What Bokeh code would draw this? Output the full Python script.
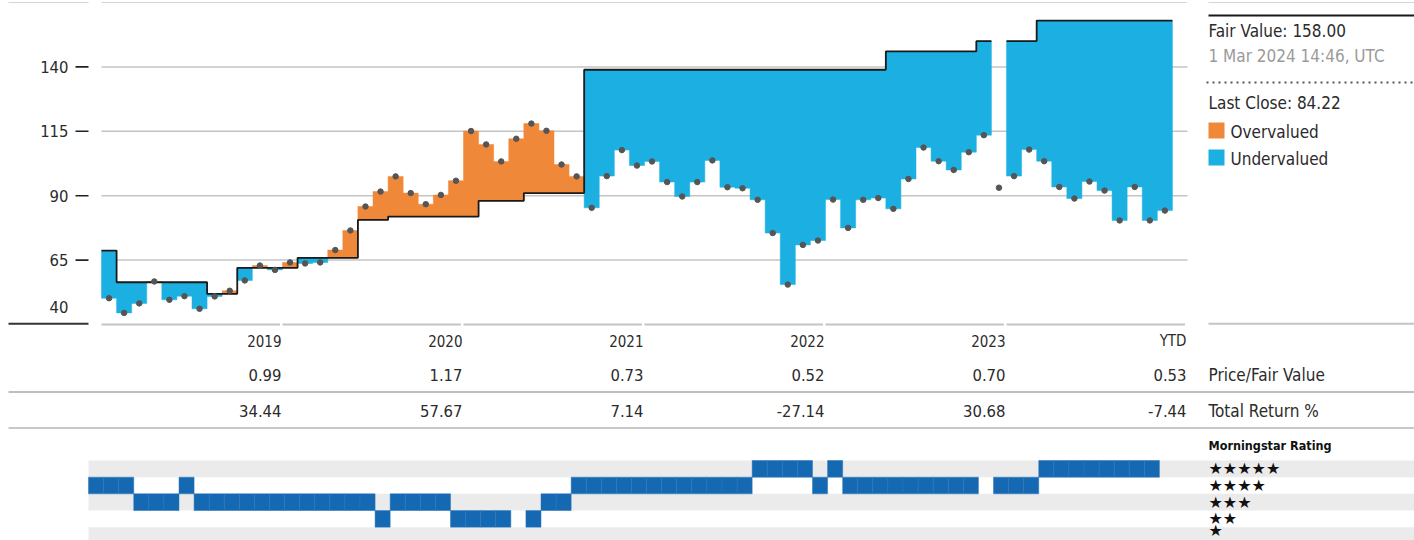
import numpy as np
from bokeh.plotting import figure
from bokeh.layouts import column
from bokeh.models import Range1d
from bokeh.core.properties import value
from bokeh.embed import file_html
from bokeh.resources import INLINE

# ---------------- data ----------------
price = [50.2, 44.5, 48.2, 56.7, 49.6, 51.0, 46.1, 50.9, 53.1, 57.1, 62.9, 61.2,
         64.1, 63.7, 64.1, 68.9, 76.5, 85.8, 91.6, 97.5, 91.0, 86.7, 90.3, 95.8,
         115.1, 109.9, 103.3, 112.1, 118.0, 115.2, 102.1, 97.5, 85.3, 97.6, 107.7, 101.7,
         103.3, 95.3, 89.7, 95.3, 103.7, 93.3, 92.9, 88.4, 75.5, 55.5, 70.9, 72.6,
         88.5, 77.5, 88.4, 89.1, 84.9, 96.5, 108.7, 103.4, 100.0, 106.9, 113.5, 93.1,
         97.6, 107.9, 103.4, 93.4, 88.9, 95.5, 92.0, 80.4, 93.4, 80.4, 84.22]

fair_value = [68.7, 56.4, 56.4, 56.4, 56.4, 56.4, 56.4, 51.9, 51.9, 62.0, 62.0, 62.0,
              62.0, 65.9, 65.9, 65.9, 65.9, 80.6, 80.6, 81.9, 81.9, 81.9, 81.9, 81.9,
              81.9, 88.0, 88.0, 88.0, 91.0, 91.0, 91.0, 91.0, 138.9, 138.9, 138.9, 138.9,
              138.9, 138.9, 138.9, 138.9, 138.9, 138.9, 138.9, 138.9, 138.9, 138.9, 138.9, 138.9,
              138.9, 138.9, 138.9, 138.9, 146.0, 146.0, 146.0, 146.0, 146.0, 146.0, 150.0, None,
              150.0, 150.0, 158.0, 158.0, 158.0, 158.0, 158.0, 158.0, 158.0, 158.0, 158.0]

star_rating = [4, 4, 4, 3, 3, 3, 4, 3, 3, 3, 3, 3, 3, 3, 3, 3, 3, 3, 3, 2,
               3, 3, 3, 3, 2, 2, 2, 2, None, 2, 3, 3,
               4, 4, 4, 4, 4, 4, 4, 4, 4, 4, 4, 4,
               5, 5, 5, 5, 4, 5, 4, 4, 4, 4, 4, 4, 4, 4, 4, None, 4, 4, 4,
               5, 5, 5, 5, 5, 5, 5, 5]

years = ["2019", "2020", "2021", "2022", "2023", "YTD"]
price_fair_value = ["0.99", "1.17", "0.73", "0.52", "0.70", "0.53"]
total_return = ["34.44", "57.67", "7.14", "-27.14", "30.68", "-7.44"]

y_ticks = [65, 90, 115, 140]
star_levels = [5, 4, 3, 2, 1]

fair_value_text = "Fair Value: 158.00"
date_text = "1 Mar 2024 14:46, UTC"
last_close_text = "Last Close: 84.22"

# ---------------- styling / layout ----------------
FONT = "DejaVu Sans Condensed"
ORANGE = "#F0883A"
BLUE = "#1CB0E2"
RATING_BLUE = "#1569B3"
BAND_GRAY = "#EBEBEB"
GRID = "#C4C4C4"
TXT = "#2b2b2b"

FIG_W = 1414
H1, H2, H3 = 330, 102, 108

W_MONTH = 1086 / 72.0      # pixel width of one month column
X0 = 101                    # pixel x of the first month


def mx(px):
    return (px - X0) / W_MONTH


S = 322 / 125.0             # px per price unit


def vy(py):
    return 40 + (324 - py) / S


x_range = Range1d(mx(0), mx(FIG_W))
X_END = 72
XL0, XL1 = mx(8), mx(88)          # left axis block
XT0 = mx(75)                       # tick start
XLAB = mx(68)                      # tick label right edge
XR0, XR1 = mx(1208), mx(FIG_W)     # right panel


def make_fig(h, yr):
    f = figure(width=FIG_W, height=h, x_range=x_range, y_range=yr,
               x_axis_type=None, y_axis_type=None, output_backend="svg",
               toolbar_location=None, tools="", min_border=0)
    f.outline_line_color = None
    f.background_fill_color = "white"
    f.border_fill_color = "white"
    return f


# ================= main chart =================
p1 = make_fig(H1, Range1d(vy(H1), vy(0)))

# grid lines
p1.segment(x0=[0] * len(y_ticks), x1=[X_END] * len(y_ticks), y0=y_ticks, y1=y_ticks,
           line_color=GRID, line_width=1.5)
p1.segment(x0=[0, XR0, XL0], x1=[X_END - 0.05, XR1, XL1], y0=[165] * 3, y1=[165] * 3,
           line_color="#D4D4D4", line_width=1.2)
# bottom line split per year
yb = [40] * len(years)
p1.segment(x0=[12 * k for k in range(len(years))],
           x1=[12 * (k + 1) - 0.17 for k in range(len(years))],
           y0=yb, y1=yb, line_color=GRID, line_width=2)
p1.segment(x0=[XR0], x1=[XR1], y0=[40.3], y1=[40.3], line_color=GRID, line_width=2)

# left axis block
p1.segment(x0=[XL0], x1=[XL1], y0=[40.3], y1=[40.3], line_color="#333333", line_width=2)
p1.segment(x0=[XT0] * len(y_ticks), x1=[XL1] * len(y_ticks), y0=y_ticks, y1=y_ticks,
           line_color="#222222", line_width=1.6)
p1.text(x=[XLAB] * len(y_ticks), y=y_ticks, text=[str(t) for t in y_ticks],
        text_align="right", text_baseline="middle", text_font=value(FONT),
        text_font_size="16.5px", text_color=TXT)
p1.text(x=[XLAB], y=[40], text=["40"], text_align="right", text_baseline="middle",
        y_offset=-18, text_font=value(FONT), text_font_size="16.5px", text_color=TXT)

# valuation areas: contiguous runs of over/under-valued months as one polygon
pr = np.array(price, dtype=float)
fv = np.array([np.nan if v is None else v for v in fair_value], dtype=float)
idx = np.arange(len(pr))
state = np.where(np.isnan(fv), 0, np.where(pr > fv, 1, -1))
poly_xs, poly_ys, poly_col = [], [], []
i = 0
while i < len(pr):
    if state[i] == 0:
        i += 1
        continue
    j = i
    while j + 1 < len(pr) and state[j + 1] == state[i]:
        j += 1
    run = range(i, j + 1)
    top = [max(pr[k], fv[k]) for k in run]
    bot = [min(pr[k], fv[k]) for k in run]
    xs_, ys_ = [], []
    for k, t in zip(run, top):
        xs_ += [k, k + 1]
        ys_ += [t, t]
    for k, b in zip(reversed(run), reversed(bot)):
        xs_ += [k + 1, k]
        ys_ += [b, b]
    poly_xs.append(xs_)
    poly_ys.append(ys_)
    poly_col.append(ORANGE if state[i] == 1 else BLUE)
    i = j + 1
p1.patches(xs=poly_xs, ys=poly_ys, fill_color=poly_col, line_color=poly_col, line_width=0.5)

# fair value step line
xs, ys, cx, cy = [], [], [], []
for i in range(len(fv)):
    if np.isnan(fv[i]):
        if cx:
            xs.append(cx)
            ys.append(cy)
            cx, cy = [], []
        continue
    cx += [i, i + 1]
    cy += [fv[i], fv[i]]
if cx:
    xs.append(cx)
    ys.append(cy)
p1.multi_line(xs=xs, ys=ys, line_color="#1a1a1a", line_width=1.8)

# price dots
p1.scatter(idx + 0.5, pr, size=5.5, color="#555555")

# right panel
p1.segment(x0=[XR0], x1=[XR1], y0=[vy(15)], y1=[vy(15)], line_color="#1a1a1a", line_width=2)
p1.segment(x0=[mx(1206)], x1=[XR1], y0=[vy(82)], y1=[vy(82)], line_color="#555555",
           line_width=2.2, line_dash="2 4")
p1.text(x=[XR0], y=[vy(30)], text=[fair_value_text], text_baseline="middle",
        text_font=value(FONT), text_font_size="17px", text_color=TXT)
p1.text(x=[XR0], y=[vy(55.5)], text=[date_text], text_baseline="middle",
        text_font=value(FONT), text_font_size="17px", text_color="#9a9a9a")
p1.text(x=[XR0], y=[vy(102)], text=[last_close_text], text_baseline="middle",
        text_font=value(FONT), text_font_size="17px", text_color=TXT)
p1.scatter(x=[mx(1216)] * 2, y=[vy(130), vy(157)], marker="square", size=16,
           fill_color=[ORANGE, BLUE], line_color=None)
p1.text(x=[mx(1230)] * 2, y=[vy(131), vy(158)], text=["Overvalued", "Undervalued"],
        text_baseline="middle", text_font=value(FONT), text_font_size="17px", text_color=TXT)

# ================= table =================
p2 = make_fig(H2, Range1d(330 + H2, 330))
col_end = [12 * (k + 1) for k in range(len(years))]
p2.text(x=col_end, y=[340] * len(years), text=years, text_align="right",
        text_baseline="middle", x_offset=-1, text_font=value(FONT),
        text_font_size="15px", text_color=TXT)
p2.text(x=col_end, y=[374.5] * len(years), text=price_fair_value, text_align="right",
        text_baseline="middle", x_offset=-1, text_font=value(FONT),
        text_font_size="16.5px", text_color=TXT)
p2.text(x=col_end, y=[410.5] * len(years), text=total_return, text_align="right",
        text_baseline="middle", x_offset=-1, text_font=value(FONT),
        text_font_size="16.5px", text_color=TXT)
p2.text(x=[XR0, XR0], y=[374.5, 410.5], text=["Price/Fair Value", "Total Return %"],
        text_baseline="middle", text_font=value(FONT), text_font_size="17px", text_color=TXT)
p2.segment(x0=[XL0, XL0], x1=[XR1, XR1], y0=[391.5, 427.5], y1=[391.5, 427.5],
           line_color=["#A8A8A8", "#C8C8C8"], line_width=[1.5, 2])

# ================= rating =================
ROW = 16.67
y_top_val = 5.5 + (460 - 432) / ROW
y_bot_val = y_top_val - H3 / ROW
p3 = make_fig(H3, Range1d(y_bot_val, y_top_val))
OFF = mx(88)
gray_levels = [5, 3, 1]
p3.quad(left=[OFF] * 3, right=[XR1] * 3, bottom=[s - 0.5 for s in gray_levels],
        top=[s + 0.5 for s in gray_levels], fill_color=BAND_GRAY, line_color=None)
rj = [j for j, s in enumerate(star_rating) if s is not None]
rs = [star_rating[j] for j in rj]
p3.quad(left=[j + OFF for j in rj], right=[j + 1 + OFF for j in rj],
        bottom=[s - 0.5 for s in rs], top=[s + 0.5 for s in rs],
        fill_color=RATING_BLUE, line_color="#2A74B8", line_width=0.5)
p3.text(x=[XR0], y=[5.5 + 15 / ROW], text=["Morningstar Rating"], text_baseline="middle",
        text_font=value(FONT), text_font_size="12.5px", text_font_style="bold", text_color="#111111")
upper = [s for s in star_levels if s > 1]
p3.text(x=[XR0] * len(upper), y=upper, text=["\u2605" * s for s in upper],
        text_baseline="middle", text_font=value("DejaVu Sans"), text_font_size="16px",
        text_color="#111111")
p3.text(x=[XR0], y=[y_bot_val], text=["\u2605"], text_baseline="bottom", y_offset=-1,
        text_font=value("DejaVu Sans"), text_font_size="16px", text_color="#111111")

layout = column(p1, p2, p3, spacing=0)
open("out.html", "w").write(file_html(layout, INLINE))
